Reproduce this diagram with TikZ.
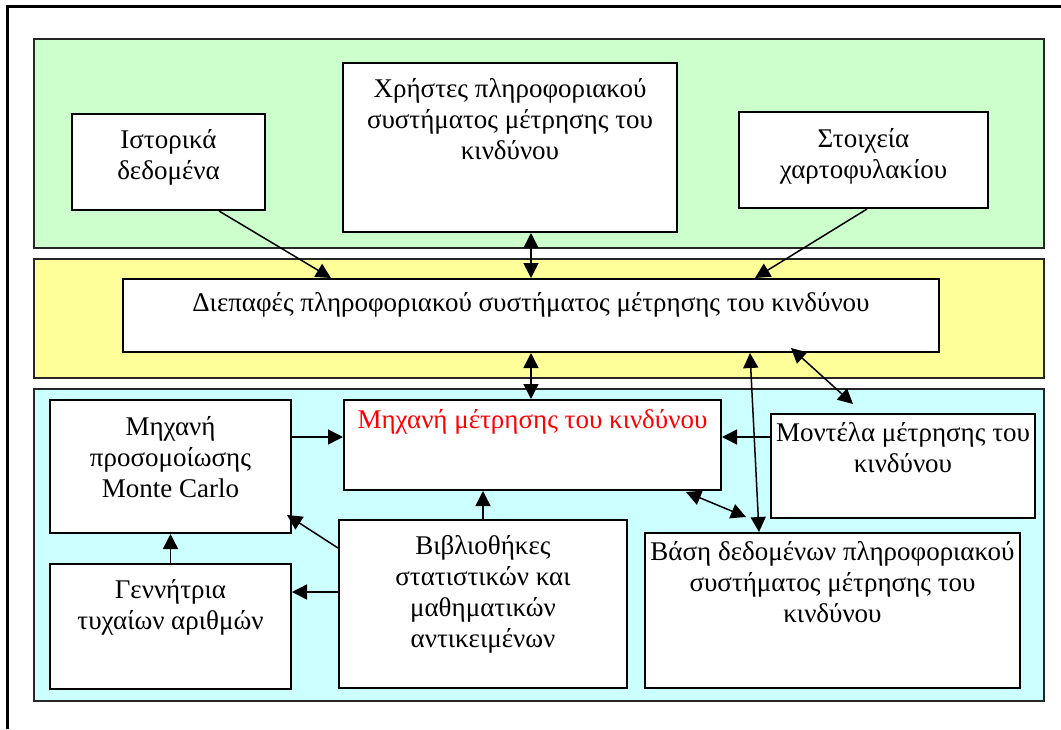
\documentclass[tikz,border=0pt]{standalone}
\usepackage{fontspec}
\setmainfont{Liberation Serif}
\usetikzlibrary{arrows.meta,calc}
\definecolor{bandgreen}{HTML}{CCFFCC}
\definecolor{bandyellow}{HTML}{FFFF99}
\definecolor{bandcyan}{HTML}{CCFFFF}
\newcommand\lines[1]{\begin{tabular}[t]{@{}c@{}}#1\end{tabular}}
\begin{document}
\begin{tikzpicture}[x=1pt,y=-1pt,
  band/.style={draw=black!85, line width=1.6pt},
  box/.style={draw, fill=white, line width=2pt, inner sep=0pt, anchor=north west},
  lbl/.style={inner sep=0pt, anchor=base, font=\fontsize{27}{31}\selectfont},
  link/.style={line width=1.5pt, -{Triangle[length=15pt,width=15pt]}},
  dlink/.style={line width=1.5pt, {Triangle[length=15pt,width=15pt]}-{Triangle[length=15pt,width=15pt]}},
]
\useasboundingbox (0,0) rectangle (1061,729);

% outer frame
\draw[line width=3.5pt] (7.5,729) -- (7.5,6.5) -- (1061,6.5);

% layers
\fill[bandgreen]  (34,39)  rectangle (1044,248);
\draw[band]       (34,39)  rectangle (1044,248);
\fill[bandyellow] (34,259) rectangle (1044,378);
\draw[band]       (34,259) rectangle (1044,378);
\fill[bandcyan]   (34,389) rectangle (1044,701);
\draw[band]       (34,389) rectangle (1044,701);

% boxes
\node[box, minimum width=193pt, minimum height=96pt]  (hist)   at (71,113)  {};
\node[box, minimum width=334pt, minimum height=169pt] (users)  at (342,62)  {};
\node[box, minimum width=249pt, minimum height=96pt]  (port)   at (738,111) {};
\node[box, minimum width=816pt, minimum height=73pt]  (iface)  at (122,278) {};
\node[box, minimum width=377pt, minimum height=90pt]  (eng)    at (343,399) {};
\node[box, minimum width=241pt, minimum height=133pt] (mc)     at (49,399)  {};
\node[box, minimum width=264pt, minimum height=104pt] (models) at (770,413) {};
\node[box, minimum width=288pt, minimum height=168pt] (libs)   at (338,519) {};
\node[box, minimum width=241pt, minimum height=125pt] (gen)    at (49,563)  {};
\node[box, minimum width=375pt, minimum height=155pt] (db)     at (644,532) {};

% labels
\node[lbl] (histT)   at ($(hist.north)+(0,35)$)   {\lines{Ιστορικά\\δεδομένα}};
\node[lbl] (usersT)  at ($(users.north)+(0,35)$)  {\lines{Χρήστες πληροφοριακού\\συστήματος μέτρησης του\\κινδύνου}};
\node[lbl] (portT)   at ($(port.north)+(0,36)$)   {\lines{Στοιχεία\\χαρτοφυλακίου}};
\node[lbl] (ifaceT)  at ($(iface.north)+(0,33)$)  {Διεπαφές πληροφοριακού συστήματος μέτρησης του κινδύνου};
\node[lbl, text=red] (engT) at ($(eng.north)+(0,29)$) {Μηχανή μέτρησης του κινδύνου};
\node[lbl] (mcT)     at ($(mc.north)+(0,36)$)     {\lines{Μηχανή\\προσομοίωσης\\Monte Carlo}};
\node[lbl] (modelsT) at ($(models.north)+(0,28)$) {\lines{Μοντέλα μέτρησης του\\κινδύνου}};
\node[lbl] (libsT)   at ($(libs.north)+(0,35)$)   {\lines{Βιβλιοθήκες\\στατιστικών και\\μαθηματικών\\αντικειμένων}};
\node[lbl] (genT)    at ($(gen.north)+(0,35)$)    {\lines{Γεννήτρια\\τυχαίων αριθμών}};
\node[lbl] (dbT)     at ($(db.north)+(0,28)$)     {\lines{Βάση δεδομένων πληροφοριακού\\συστήματος μέτρησης του\\κινδύνου}};

% connectors
\draw[link]  ($(hist.south)+(50.5,0)$) -- ($(iface.north)+(-200,0)$);
\draw[dlink] (users.south -| iface.north) -- (iface.north);
\draw[link]  ($(port.south)+(3.5,0)$) -- ($(iface.north)+(224,0)$);
\draw[dlink] (iface.south) -- (iface.south |- eng.north);
\draw[dlink] ($(iface.south)+(219,0)$) -- ($(db.north)+(-73.5,0)$);
\draw[dlink] ($(iface.south)+(260,-5)$) -- ($(models.north)+(-50,-9)$);
\draw[link]  ($(models.north west)+(0,24)$) coordinate (mEng) -- (mEng -| eng.east);
\draw[dlink] ($(eng.south)+(153.5,1)$) -- ($(db.north)+(-86.5,-15)$);
\draw[link]  ($(mc.north east)+(0,38)$) coordinate (mcEng) -- (mcEng -| eng.west);
\draw[link]  (libs.north) -- (libs.north |- eng.south);
\draw[link]  ($(libs.north west)+(0,29)$) -- ($(mc.south east)+(-5,-19)$);
\draw[link]  ($(libs.north west)+(0,73)$) coordinate (lGen) -- (lGen -| gen.east);
\draw[link]  (gen.north) -- (mc.south);
\end{tikzpicture}
\end{document}
